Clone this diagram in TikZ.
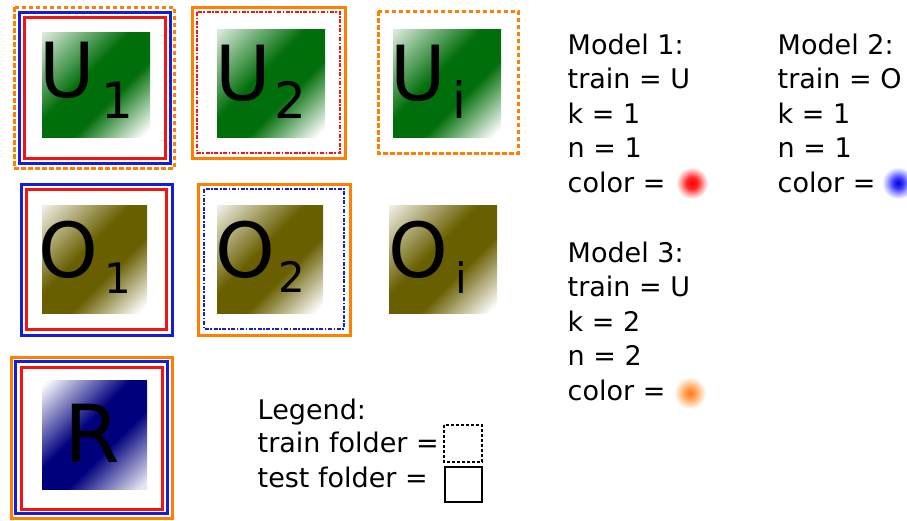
\documentclass[tikz,border=0pt]{standalone}
\usepackage{fontspec}
\setmainfont{DejaVu Sans}
\definecolor{ugreen}{RGB}{0,110,10}
\definecolor{uolive}{RGB}{105,95,0}
\definecolor{unavy}{RGB}{0,0,125}
\definecolor{forange}{RGB}{255,128,0}
\definecolor{fblue}{RGB}{20,30,210}
\definecolor{fred}{RGB}{240,20,20}
\definecolor{dorange}{RGB}{255,140,40}
\pgfdeclareverticalshading{gshade}{100bp}{color(0bp)=(white); color(17bp)=(white); color(40bp)=(ugreen); color(56bp)=(ugreen); color(85bp)=(ugreen!14); color(100bp)=(ugreen!14)}
\pgfdeclareverticalshading{oshade}{100bp}{color(0bp)=(white); color(17bp)=(white); color(40bp)=(uolive); color(56bp)=(uolive); color(85bp)=(uolive!10); color(100bp)=(uolive!10)}
\pgfdeclareverticalshading{nshade}{100bp}{color(0bp)=(unavy!10); color(17bp)=(unavy!10); color(41bp)=(unavy); color(56bp)=(unavy); color(84bp)=(white); color(100bp)=(white)}
\pgfdeclareradialshading{reddot}{\pgfpoint{0bp}{0bp}}{color(0bp)=(red); color(9bp)=(red!85); color(17bp)=(red!40); color(25bp)=(white); color(50bp)=(white)}
\pgfdeclareradialshading{bluedot}{\pgfpoint{0bp}{0bp}}{color(0bp)=(blue!80!black); color(9bp)=(blue!75); color(17bp)=(blue!35); color(25bp)=(white); color(50bp)=(white)}
\pgfdeclareradialshading{orangedot}{\pgfpoint{0bp}{0bp}}{color(0bp)=(dorange!85!red); color(9bp)=(dorange!80); color(17bp)=(dorange!40); color(25bp)=(white); color(50bp)=(white)}
\tikzset{
  frame/.style={line width=3pt},
  dashfr/.style={line width=3pt, dash pattern=on 4.5pt off 2.5pt},
  dashdotfr/.style={line width=2.6pt, dash pattern=on 4pt off 1.6pt on 1.6pt off 1.6pt},
  sq/.style={shading angle=45},
  bigletter/.style={font=\fontsize{76}{76}\selectfont, anchor=base west, inner sep=0pt},
  bigR/.style={font=\fontsize{80}{80}\selectfont, anchor=base west, inner sep=0pt},
  subU/.style={font=\fontsize{50}{50}\selectfont, anchor=base west, inner sep=0pt},
  subO/.style={font=\fontsize{42}{42}\selectfont, anchor=base west, inner sep=0pt},
  mtext/.style={font=\fontsize{27}{30}\selectfont, anchor=base west, inner sep=0pt},
}
\begin{document}
\begin{tikzpicture}[x=1pt,y=-1pt]
\useasboundingbox (0,0) rectangle (907,520);
% squares
\shade[sq, shading=gshade] (42,32) rectangle (150,137);
\shade[sq, shading=gshade] (217,29) rectangle (325,137);
\shade[sq, shading=gshade] (393,29) rectangle (501,137);
\shade[sq, shading=oshade] (42,205) rectangle (147,313);
\shade[sq, shading=oshade] (217,205) rectangle (323,313);
\shade[sq, shading=oshade] (389,205) rectangle (497,313);
\shade[sq, shading=nshade] (42,380) rectangle (147,489);
% letters
\node[bigletter] (u1) at (39.5,97) {U};
\node[subU] (u1s) at (101.7,118) {1};
\node[bigletter] (u2) at (215.5,100) {U};
\node[subU] (u2s) at (274.5,118) {2};
\node[bigletter] (ui) at (390.5,100) {U};
\node[subU] (uis) at (452.5,118) {i};
\node[bigletter] (o1) at (38.7,277) {O};
\node[subO] (o1s) at (104.7,293) {1};
\node[bigletter] (o2) at (215.7,277) {O};
\node[subO] (o2s) at (278.5,292) {2};
\node[bigletter] (oi) at (388.7,277) {O};
\node[subO] (ois) at (455.5,293) {i};
\node[bigR] (r) at (64.5,462) {R};
% frames U1
\draw[dashfr, forange] (14,7) rectangle (174,168);
\draw[frame, fblue] (19,12) rectangle (170,163);
\draw[frame, fred] (24,17) rectangle (165,158);
% U2
\draw[frame, forange] (192,7) rectangle (345,158);
\draw[dashdotfr, fred] (197,12) rectangle (340,153);
% Ui
\draw[dashfr, forange] (378,11) rectangle (518,153);
% O1
\draw[frame, fblue] (21,184) rectangle (172,335);
\draw[frame, fred] (26,189) rectangle (166,329);
% O2
\draw[frame, forange] (198,184) rectangle (350,335);
\draw[dashdotfr, fblue] (204,189) rectangle (344,329);
% R
\draw[frame, forange] (11,357) rectangle (172,518);
\draw[frame, fblue] (15.5,361.5) rectangle (167.5,513.5);
\draw[frame, fred] (21,367) rectangle (162,509);
% model texts
\node[mtext] (m1a) at (567.5,54) {Model 1:};
\node[mtext] (m1b) at (567.5,88.5) {train = U};
\node[mtext] (m1c) at (567.5,123) {k = 1};
\node[mtext] (m1d) at (567.5,157.5) {n = 1};
\node[mtext] (m1e) at (567.5,192) {color =};
\node[mtext] (m2a) at (777.5,54) {Model 2:};
\node[mtext] (m2b) at (777.5,88.5) {train = O};
\node[mtext] (m2c) at (777.5,123) {k = 1};
\node[mtext] (m2d) at (777.5,157.5) {n = 1};
\node[mtext] (m2e) at (777.5,192) {color =};
\node[mtext] (m3a) at (567.5,262) {Model 3:};
\node[mtext] (m3b) at (567.5,296.5) {train = U};
\node[mtext] (m3c) at (567.5,331) {k = 2};
\node[mtext] (m3d) at (567.5,365.5) {n = 2};
\node[mtext] (m3e) at (567.5,400) {color =};
% dots
\shade[shading=reddot] (692,183) circle (16pt);
\shade[shading=bluedot] (898,183) circle (16pt);
\shade[shading=orangedot] (690,393) circle (16pt);
% legend
\node[mtext] (lg) at (257.5,419) {Legend:};
\node[mtext] (lgtr) at (257.5,452) {train folder =};
\node[mtext] (lgte) at (257.5,487) {test folder =};
\draw[line width=2.6pt, dash pattern=on 3pt off 2pt] (444,425) rectangle (482,462);
\draw[line width=2.6pt] (445,467) rectangle (482,502);
\end{tikzpicture}
\end{document}
